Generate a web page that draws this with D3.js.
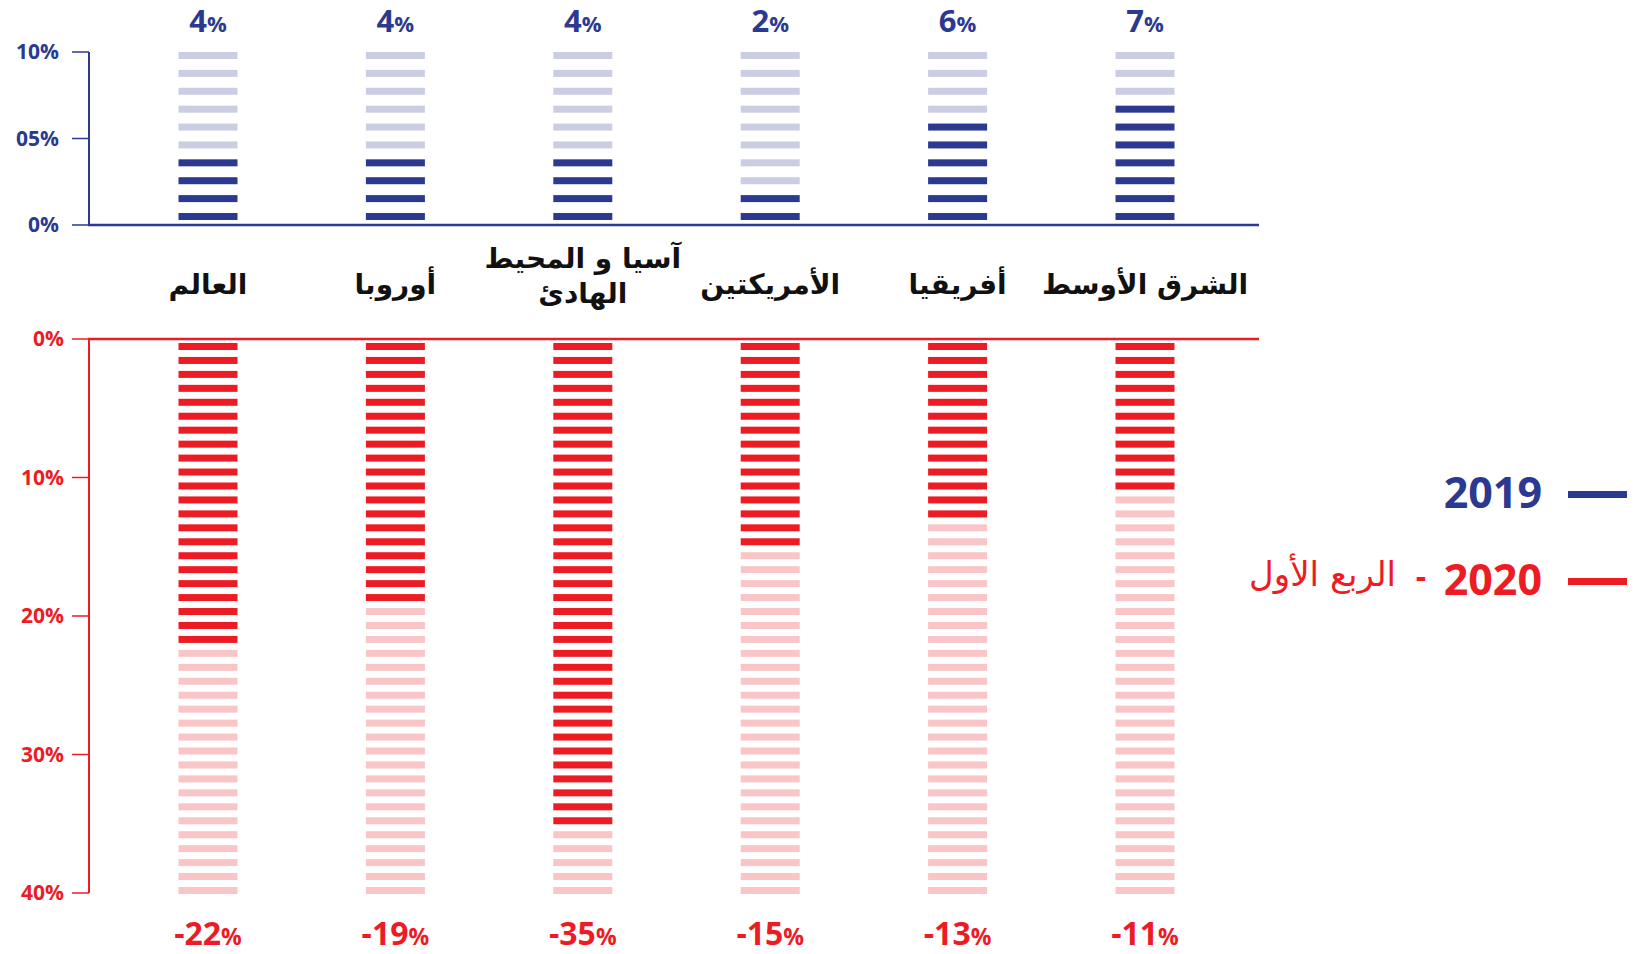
<!DOCTYPE html>
<html lang="ar">
<head>
<meta charset="UTF-8">
<title>2019 / 2020</title>
<script src="https://d3js.org/d3.v7.min.js"></script>
<style>
    body { margin: 0; background: #fff; }
    .num { font-family: "Open Sans", sans-serif; font-weight: 700; }
    .ar { font-family: "DejaVu Sans", sans-serif; }
</style>
</head>
<body>
<div id="chart"></div>
<script>
    // categories (left to right as in the picture)
    const regions = ["العالم", "أوروبا", "آسيا و المحيط الهادئ", "الأمريكتين", "أفريقيا", "الشرق الأوسط"];
    const regionLines = [["العالم"], ["أوروبا"], ["آسيا و المحيط", "الهادئ"], ["الأمريكتين"], ["أفريقيا"], ["الشرق الأوسط"]];
    // 2019 growth, % (one dash per point)
    const growth2019 = [4, 4, 4, 2, 6, 7];
    // 2020 Q1 drop, % (one dash per point)
    const drop2020 = [22, 19, 35, 15, 13, 11];
    const topTicks = [0, 5, 10];
    const topTickLabels = ["0%", "05%", "10%"];
    const bottomTicks = [0, 10, 20, 30, 40];
    const bottomTickLabels = ["0%", "10%", "20%", "30%", "40%"];

    const blue = "#2b3990", blueLight = "#cbcde3";
    const red = "#ed1c24", redLight = "#f9c5c6";

    const width = 1645, height = 954;
    const svg = d3.select("#chart").append("svg")
        .attr("width", width)
        .attr("height", height);

    const x = d3.scalePoint().domain(regions).range([208, 1145]);
    const dashW = 59, dashH = 7;

    // ---- top chart (2019)
    const yTop = d3.scaleLinear().domain([0, 10]).range([225, 52]);
    const dashTop = d3.scaleLinear().domain([1, 10]).range([213, 52]);
    const topUnits = d3.range(1, 11);

    const topG = svg.append("g");
    regions.forEach((r, i) => {
        topG.selectAll(null)
            .data(topUnits)
            .enter().append("rect")
            .attr("x", x(r) - dashW / 2)
            .attr("y", d => dashTop(d))
            .attr("width", dashW)
            .attr("height", dashH)
            .attr("fill", d => d <= growth2019[i] ? blue : blueLight);

        const t = topG.append("text")
            .attr("class", "num")
            .attr("x", x(r))
            .attr("y", 32)
            .attr("text-anchor", "middle")
            .attr("fill", blue)
            .style("font-size", "31px");
        t.append("tspan").text(growth2019[i]);
        t.append("tspan").style("font-size", "22px").text("%");
    });

    topG.append("line")
        .attr("x1", 89).attr("x2", 89)
        .attr("y1", yTop(10)).attr("y2", yTop(0))
        .attr("stroke", blue).attr("stroke-width", 2);
    topG.append("line")
        .attr("x1", 88).attr("x2", 1259)
        .attr("y1", yTop(0)).attr("y2", yTop(0))
        .attr("stroke", blue).attr("stroke-width", 2.5);
    topTicks.forEach((v, i) => {
        topG.append("line")
            .attr("x1", 72).attr("x2", 89)
            .attr("y1", yTop(v)).attr("y2", yTop(v))
            .attr("stroke", blue).attr("stroke-width", 1.5);
        topG.append("text")
            .attr("class", "num")
            .attr("x", 59)
            .attr("y", yTop(v) + 7)
            .attr("text-anchor", "end")
            .attr("fill", blue)
            .style("font-size", "21px")
            .text(topTickLabels[i]);
    });

    // ---- category labels
    regions.forEach((r, i) => {
        const lines = regionLines[i];
        const base = lines.length === 1 ? [294] : [268, 303];
        lines.forEach((ln, j) => {
            svg.append("text")
                .attr("class", "ar")
                .attr("x", x(r))
                .attr("y", base[j])
                .attr("text-anchor", "middle")
                .attr("fill", "#111")
                .style("font-size", "28px")
                .style("font-weight", "bold")
                .text(ln);
        });
    });

    // ---- bottom chart (2020 Q1)
    const yBot = d3.scaleLinear().domain([0, 40]).range([339, 893]);
    const dashBot = d3.scaleLinear().domain([1, 40]).range([343, 887]);
    const botUnits = d3.range(1, 41);

    const botG = svg.append("g");
    regions.forEach((r, i) => {
        botG.selectAll(null)
            .data(botUnits)
            .enter().append("rect")
            .attr("x", x(r) - dashW / 2)
            .attr("y", d => dashBot(d))
            .attr("width", dashW)
            .attr("height", dashH)
            .attr("fill", d => d <= drop2020[i] ? red : redLight);

        const t = botG.append("text")
            .attr("class", "num")
            .attr("x", x(r))
            .attr("y", 945)
            .attr("text-anchor", "middle")
            .attr("fill", red)
            .style("font-size", "32px");
        t.append("tspan").text("-" + drop2020[i]);
        t.append("tspan").style("font-size", "23px").text("%");
    });

    botG.append("line")
        .attr("x1", 89).attr("x2", 89)
        .attr("y1", yBot(0)).attr("y2", yBot(40))
        .attr("stroke", red).attr("stroke-width", 2);
    botG.append("line")
        .attr("x1", 88).attr("x2", 1259)
        .attr("y1", yBot(0)).attr("y2", yBot(0))
        .attr("stroke", red).attr("stroke-width", 2.5);
    bottomTicks.forEach((v, i) => {
        botG.append("line")
            .attr("x1", 72).attr("x2", 89)
            .attr("y1", yBot(v)).attr("y2", yBot(v))
            .attr("stroke", red).attr("stroke-width", 1.5);
        botG.append("text")
            .attr("class", "num")
            .attr("x", 64)
            .attr("y", yBot(v) + 7)
            .attr("text-anchor", "end")
            .attr("fill", red)
            .style("font-size", "21px")
            .text(bottomTickLabels[i]);
    });

    // ---- legend
    const legend = svg.append("g");
    legend.append("rect")
        .attr("x", 1568).attr("y", 491)
        .attr("width", 59).attr("height", 7)
        .attr("fill", blue);
    legend.append("text")
        .attr("class", "num")
        .attr("x", 1542).attr("y", 508)
        .attr("text-anchor", "end")
        .attr("fill", blue)
        .style("font-size", "43px")
        .text("2019");

    legend.append("rect")
        .attr("x", 1568).attr("y", 578)
        .attr("width", 59).attr("height", 7)
        .attr("fill", red);
    legend.append("text")
        .attr("class", "num")
        .attr("x", 1542).attr("y", 595)
        .attr("text-anchor", "end")
        .attr("fill", red)
        .style("font-size", "43px")
        .text("2020");
    legend.append("text")
        .attr("class", "num")
        .attr("x", 1421).attr("y", 588)
        .attr("text-anchor", "middle")
        .attr("fill", red)
        .style("font-size", "32px")
        .text("-");
    legend.append("text")
        .attr("class", "ar")
        .attr("x", 1396).attr("y", 586)
        .attr("text-anchor", "end")
        .attr("fill", red)
        .style("font-size", "34px")
        .text("الربع الأول");
</script>
</body>
</html>
